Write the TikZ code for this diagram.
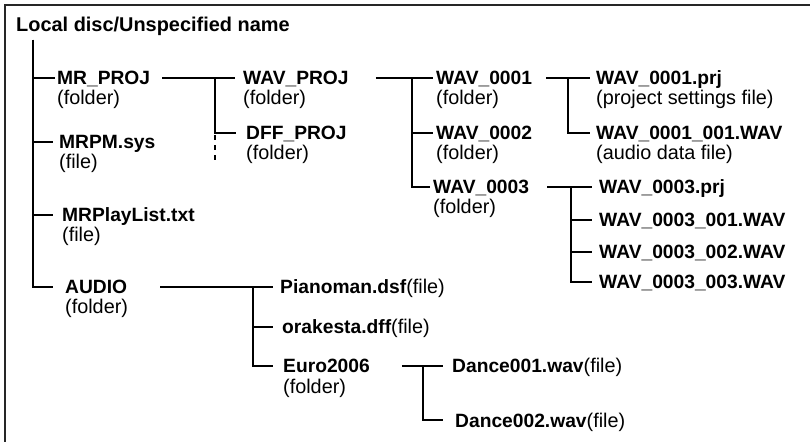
\documentclass[tikz,border=0pt]{standalone}
\usepackage{fontspec}
\setmainfont{Liberation Sans}
\newcommand\plainpart{\fontsize{19.9}{20}\selectfont\mdseries}
\tikzset{
  nm/.style={inner sep=0pt, anchor=base west, font=\fontsize{19.3}{20}\selectfont\bfseries, text height=13.8bp, text depth=0pt},
  ds/.style={inner sep=0pt, anchor=base west, font=\fontsize{19.9}{20}\selectfont},
  titlefont/.style={inner sep=0pt, anchor=base west, font=\fontsize{20}{22}\selectfont\bfseries},
  tree/.style={line width=2.2bp, line join=miter, black},
  dotline/.style={line width=2.2bp, dash pattern=on 5bp off 5bp, black},
  frameline/.style={line width=2.6bp, black!85}
}
\begin{document}
\begin{tikzpicture}[x=1bp,y=-1bp]
\useasboundingbox (0,0) rectangle (810,442);
\draw[frameline] (5,445) |- (815,5);

% nodes
\node[titlefont] (root) at (16,32) {Local disc/Unspecified name};

\node[nm] (mrproj) at (57,85) {MR\_PROJ};
\node[ds] (mrprojd) at ([yshift=-20bp]mrproj.base west) {(folder)};
\node[nm] (mrpm) at (59,149) {MRPM.sys};
\node[ds] (mrpmd) at ([yshift=-20bp]mrpm.base west) {(file)};
\node[nm] (playlist) at (62,222) {MRPlayList.txt};
\node[ds] (playlistd) at ([yshift=-20bp]playlist.base west) {(file)};
\node[nm] (audio) at (65,294) {AUDIO};
\node[ds] (audiod) at ([yshift=-20bp]audio.base west) {(folder)};

\node[nm] (wavproj) at (243,85) {WAV\_PROJ};
\node[ds] (wavprojd) at ([yshift=-20bp]wavproj.base west) {(folder)};
\node[nm] (dffproj) at (246,140) {DFF\_PROJ};
\node[ds] (dffprojd) at ([yshift=-20bp]dffproj.base west) {(folder)};

\node[nm] (wav1) at (436,85) {WAV\_0001};
\node[ds] (wav1d) at ([yshift=-20bp]wav1.base west) {(folder)};
\node[nm] (wav2) at (436,140) {WAV\_0002};
\node[ds] (wav2d) at ([yshift=-20bp]wav2.base west) {(folder)};
\node[nm] (wav3) at (433,194) {WAV\_0003};
\node[ds] (wav3d) at ([yshift=-20bp]wav3.base west) {(folder)};

\node[nm] (prj1) at (596,85) {WAV\_0001.prj};
\node[ds] (prj1d) at ([yshift=-20bp]prj1.base west) {(project settings file)};
\node[nm] (w11) at (596,140) {WAV\_0001\_001.WAV};
\node[ds] (w11d) at ([yshift=-20bp]w11.base west) {(audio data file)};

\node[nm] (prj3) at (599,194) {WAV\_0003.prj};
\node[nm] (w31) at (599,227) {WAV\_0003\_001.WAV};
\node[nm] (w32) at (599,259) {WAV\_0003\_002.WAV};
\node[nm] (w33) at (599,289) {WAV\_0003\_003.WAV};

\node[nm] (piano) at (280,294) {Pianoman.dsf{\plainpart(file)}};
\node[nm] (orak) at (282,334) {orakesta.dff{\plainpart(file)}};
\node[nm] (euro) at (283,373) {Euro2006};
\node[ds] (eurod) at ([yshift=-20bp]euro.base west) {(folder)};

\node[nm] (d1) at (452,373) {Dance001.wav{\plainpart(file)}};
\node[nm] (d2) at (455,427) {Dance002.wav{\plainpart(file)}};

% connectors
\coordinate (trunk) at ([xshift=17bp,yshift=-8bp]root.base west);
\draw[tree] (trunk) |- ([xshift=-2bp]mrproj.west);
\draw[tree] (trunk) |- ([xshift=-6bp]mrpm.west);
\draw[tree] (trunk) |- ([xshift=-9bp]playlist.west);
\draw[tree] (trunk) |- ([xshift=-12bp]audio.west);

\draw[tree] ([xshift=12bp]mrproj.east) -- ([xshift=-8bp]wavproj.west);
\draw[tree] ([xshift=-28bp]wavproj.west) |- ([xshift=-10bp]dffproj.west);
\draw[dotline] ([xshift=-31bp,yshift=-2bp]dffproj.west) -- ++(0,25);

\draw[tree] ([xshift=27bp]wavproj.east) -- ([xshift=-3bp]wav1.west);
\draw[tree] ([xshift=-24bp]wav1.west) |- ([xshift=-3bp]wav2.west);
\draw[tree] ([xshift=-24bp]wav1.west) |- ([xshift=-3bp]wav3.west);

\draw[tree] ([xshift=14bp]wav1.east) -- ([xshift=-6bp]prj1.west);
\draw[tree] ([xshift=-28bp]prj1.west) |- ([xshift=-6bp]w11.west);

\draw[tree] ([xshift=18bp]wav3.east) -- ([xshift=-7bp]prj3.west);
\draw[tree] ([xshift=-28bp]prj3.west) |- ([xshift=-7bp]w31.west);
\draw[tree] ([xshift=-28bp]prj3.west) |- ([xshift=-7bp]w32.west);
\draw[tree] ([xshift=-28bp]prj3.west) |- ([xshift=-7bp]w33.west);

\draw[tree] ([xshift=33bp]audio.east) -- ([xshift=-7bp]piano.west);
\draw[tree] ([xshift=-27bp]piano.west) |- ([xshift=-9bp]orak.west);
\draw[tree] ([xshift=-27bp]piano.west) |- ([xshift=-10bp]euro.west);

\draw[tree] ([xshift=32bp]euro.east) -- ([xshift=-9bp]d1.west);
\draw[tree] ([xshift=-29bp]d1.west) |- ([xshift=-12bp]d2.west);
\end{tikzpicture}
\end{document}
